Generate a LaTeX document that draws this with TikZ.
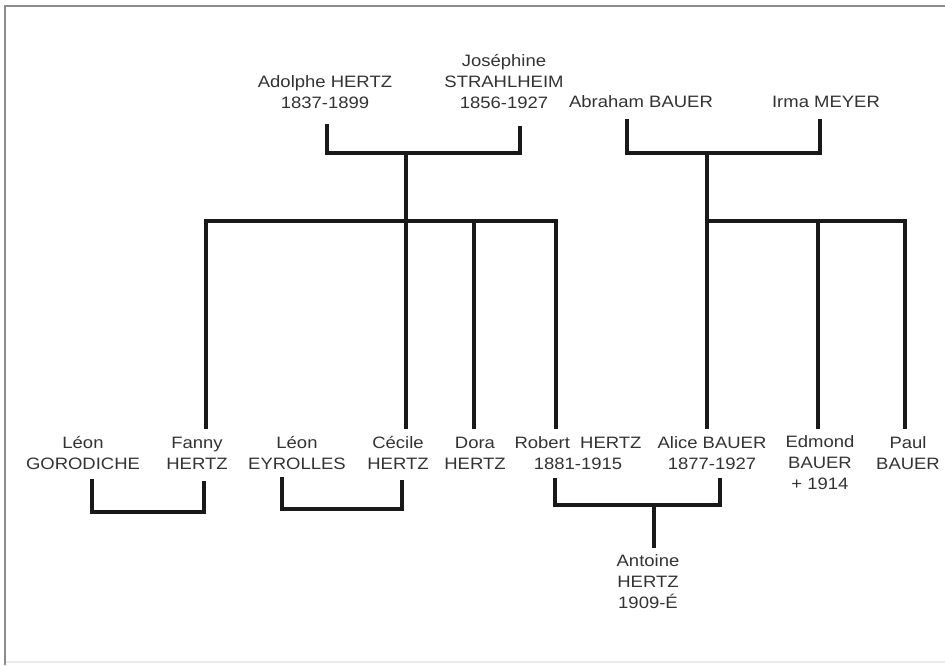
\documentclass[tikz,border=0pt]{standalone}
\usepackage{fontspec}
\setmainfont{Liberation Sans}[FakeStretch=1.12]
\begin{document}
\begin{tikzpicture}[x=1pt,y=-1pt,
  person/.style={align=center, inner sep=0pt, text=black!80,
    font=\fontsize{16.5}{21}\selectfont},
  link/.style={draw=black!90, line width=3.2pt, line cap=rect}]
\useasboundingbox (0,0) rectangle (945,665);
\fill[white] (0,0) rectangle (945,665);
% frame
\draw[black!45, line width=2pt] (5,665) -- (5,6) -- (945,6);
\draw[black!8, line width=1.5pt] (6,662) -- (945,662);

% top generation
\node[person] (adolphe) at (325,92) {Adolphe HERTZ\\1837-1899};
\node[person] (josephine) at (504,82) {Joséphine\\STRAHLHEIM\\1856-1927};
\node[person] (abraham) at (641,102) {Abraham BAUER};
\node[person] (irma) at (826,102) {Irma MEYER};

% children row
\node[person] (leong) at (83,453) {Léon\\GORODICHE};
\node[person] (fanny) at (197,453) {Fanny\\HERTZ};
\node[person] (leone) at (297,453) {Léon\\EYROLLES};
\node[person] (cecile) at (398,453) {Cécile\\HERTZ};
\node[person] (dora) at (475,453) {Dora\\HERTZ};
\node[person] (robert) at (578,453) {Robert~~HERTZ\\1881-1915};
\node[person] (alice) at (712,453) {Alice BAUER\\1877-1927};
\node[person] (edmond) at (820,463) {Edmond\\BAUER\\+ 1914};
\node[person] (paul) at (908,453) {Paul\\BAUER};
\node[person] (antoine) at (648,582) {Antoine\\HERTZ\\1909-É};

% connector coordinates
\coordinate (aT) at (327,126);
\coordinate (jT) at (520,128);
\coordinate (hJ) at (406,153);
\coordinate (hB) at (406,221);
\coordinate (abT) at (627,121);
\coordinate (irT) at (820,121);
\coordinate (bJ) at (707,153);
\coordinate (bB) at (707,221);
\coordinate (fannyT) at (206,427);
\coordinate (cecileT) at (406,427);
\coordinate (doraT) at (474,427);
\coordinate (robertT) at (556,427);
\coordinate (aliceT) at (707,427);
\coordinate (edmondT) at (818,427);
\coordinate (paulT) at (905,427);
\coordinate (lgB) at (92,481);
\coordinate (faB) at (204,483);
\coordinate (leB) at (282,479);
\coordinate (ceB) at (402,482);
\coordinate (roB) at (555,480);
\coordinate (alB) at (720,480);
\coordinate (m1) at (150,512);
\coordinate (m2) at (340,509);
\coordinate (m3) at (654,505);
\coordinate (anT) at (654,546);

% parents
\draw[link] (aT) |- (hJ) -| (jT);
\draw[link] (hJ) -- (hB);
\draw[link] (abT) |- (bJ) -| (irT);
\draw[link] (bJ) -- (bB);
% children bars
\draw[link] (fannyT) |- (hB) -| (robertT);
\draw[link] (hB) -- (cecileT);
\draw[link] (doraT) -- (doraT |- hB);
\draw[link] (aliceT) |- (bB) -| (paulT);
\draw[link] (edmondT) -- (edmondT |- bB);
% couples
\draw[link] (lgB) |- (m1) -| (faB);
\draw[link] (leB) |- (m2) -| (ceB);
\draw[link] (roB) |- (m3) -| (alB);
\draw[link] (m3) -- (anT);
\end{tikzpicture}
\end{document}
